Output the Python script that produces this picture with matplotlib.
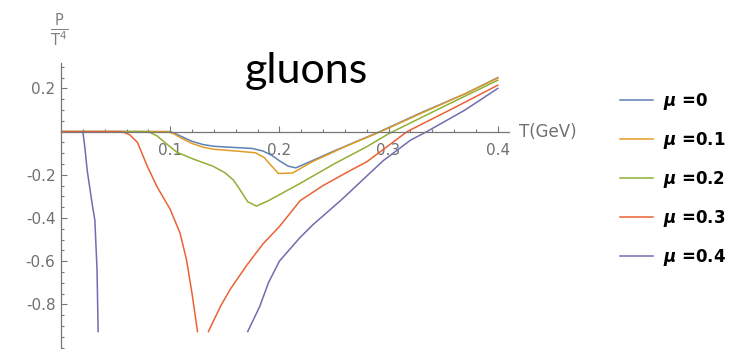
import matplotlib
matplotlib.use("Agg")
import matplotlib.pyplot as plt
import numpy as np
from matplotlib.ticker import MultipleLocator

# P/T^4 of the gluon sector vs temperature, one curve per chemical potential
nan = np.nan

t_mu0 = [0, 0.1, 0.105, 0.11, 0.12, 0.13, 0.14, 0.16, 0.175, 0.185, 0.193,
         0.2, 0.208, 0.215, 0.23, 0.25, 0.292, 0.33, 0.37, 0.4]
p_mu0 = [0, 0, -0.01, -0.022, -0.045, -0.06, -0.068, -0.074, -0.078, -0.09,
         -0.11, -0.135, -0.16, -0.168, -0.135, -0.09, 0.0, 0.088, 0.175, 0.25]

t_mu1 = [0, 0.098, 0.104, 0.11, 0.12, 0.13, 0.14, 0.16, 0.178, 0.186, 0.193,
         0.199, 0.212, 0.23, 0.26, 0.292, 0.33, 0.37, 0.4]
p_mu1 = [0, 0, -0.012, -0.03, -0.055, -0.072, -0.082, -0.09, -0.098, -0.12,
         -0.16, -0.194, -0.192, -0.14, -0.07, -0.002, 0.085, 0.175, 0.248]

t_mu2 = [0, 0.08, 0.088, 0.095, 0.106, 0.12, 0.139, 0.15, 0.158, 0.164,
         0.171, 0.179, 0.19, 0.219, 0.25, 0.28, 0.3, 0.35, 0.4]
p_mu2 = [0, 0, -0.02, -0.05, -0.095, -0.125, -0.16, -0.19, -0.225, -0.27,
         -0.325, -0.345, -0.32, -0.24, -0.15, -0.07, -0.01, 0.115, 0.238]

t_mu3 = [0, 0.056, 0.063, 0.07, 0.079, 0.088, 0.1, 0.109, 0.115, 0.12,
         0.125, nan, 0.135, 0.146, 0.155, 0.17, 0.185, 0.2, 0.219, 0.24,
         0.265, 0.28, 0.317, 0.36, 0.4]
p_mu3 = [0, 0, -0.015, -0.05, -0.16, -0.256, -0.36, -0.47, -0.595, -0.75,
         -0.926, nan, -0.926, -0.81, -0.73, -0.62, -0.52, -0.44, -0.32, -0.25,
         -0.18, -0.14, 0.0, 0.11, 0.215]

t_mu4 = [0.02, 0.022, 0.024, 0.0284, 0.031, 0.033, 0.034, nan, 0.171, 0.182,
         0.19, 0.2, 0.219, 0.231, 0.257, 0.295, 0.32, 0.335, 0.37, 0.4]
p_mu4 = [0, -0.08, -0.18, -0.33, -0.41, -0.64, -0.926, nan, -0.926, -0.81,
         -0.7, -0.6, -0.49, -0.43, -0.315, -0.135, -0.04, 0.0, 0.1, 0.2]

series = [
    (t_mu0, p_mu0, "0", "#5E81B5"),
    (t_mu1, p_mu1, "0.1", "#E19C24"),
    (t_mu2, p_mu2, "0.2", "#8FB032"),
    (t_mu3, p_mu3, "0.3", "#EB6235"),
    (t_mu4, p_mu4, "0.4", "#6E6DAE"),
]

plt.rcParams["mathtext.fontset"] = "custom"
plt.rcParams["mathtext.it"] = "DejaVu Sans:italic:bold"
plt.rcParams["mathtext.rm"] = "DejaVu Sans"

W, H = 743, 349
fig = plt.figure(figsize=(W / 100, H / 100), dpi=100)
ax = fig.add_axes([61 / W, 1.5 / H, 447.7 / W, 285 / H])

for t, p, mu, color in series:
    ax.plot(t, p, color=color, lw=1.1, label=r"$\mu$ =" + mu)

ax.set_xlim(0, 0.41)
ax.set_ylim(-1.0, 0.32)

axis_grey = "#777777"
ax.spines["top"].set_visible(False)
ax.spines["right"].set_visible(False)
ax.spines["bottom"].set_position(("data", 0))
for side in ("left", "bottom"):
    ax.spines[side].set_color(axis_grey)
    ax.spines[side].set_linewidth(0.9)

ax.xaxis.set_minor_locator(MultipleLocator(0.02))
ax.yaxis.set_minor_locator(MultipleLocator(0.05))
ax.set_xticks([0.1, 0.2, 0.3, 0.4])
ax.set_xticklabels(["0.1", "0.2", "0.3", "0.4"])
ax.set_yticks([0.2, -0.2, -0.4, -0.6, -0.8])
ax.set_yticklabels(["0.2", "-0.2", "-0.4", "-0.6", "-0.8"])
ax.tick_params(which="both", direction="in", color=axis_grey, labelcolor="#707070",
               labelsize=11, width=0.8)
ax.tick_params(which="major", length=4)
ax.tick_params(which="minor", length=2.2)
ax.tick_params(axis="x", which="major", pad=8)
ax.tick_params(axis="y", which="major", pad=4)

ax.text(0.419, 0, "T(GeV)", color="#707070", fontsize=12, va="center", ha="left")
fig.text(59 / W, 1 - 30 / H, r"$\frac{\mathrm{P}}{\mathrm{T}^4}$", color="#808080",
         fontsize=15, ha="center", va="center")

fig.text(245 / W, 1 - 83 / H, "gluons", fontsize=31, family="Lato",
         color="black", ha="left", va="baseline")

ax.legend(loc="upper left", bbox_to_anchor=(620 / W, 1 - 91 / H),
          bbox_transform=fig.transFigure, frameon=False, borderpad=0,
          borderaxespad=0, handlelength=2.0, handletextpad=0.6,
          labelspacing=1.08, prop={"weight": "bold", "size": 12})

fig.savefig("out.png", dpi=100)
